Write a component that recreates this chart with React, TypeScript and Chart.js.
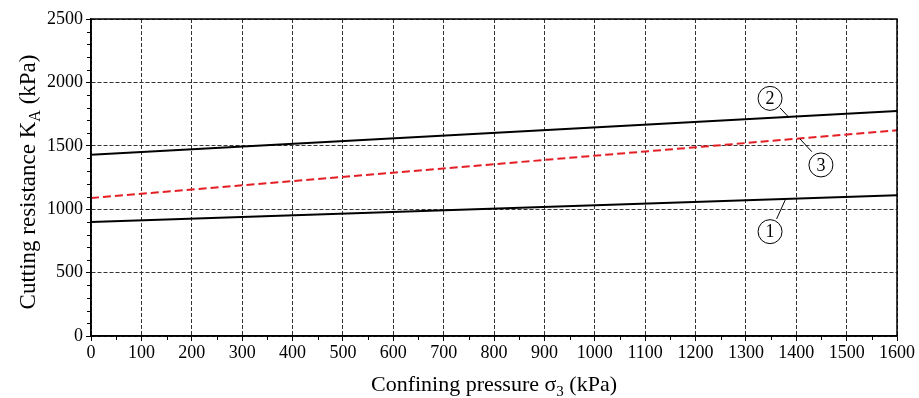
import React, { useEffect, useRef } from "react";
import { Chart, registerables } from "chart.js";

Chart.register(...registerables);

const xValues = [0, 1600];
const curve1 = [900, 1110];
const curve2 = [1430, 1775];
const curve3 = [1088, 1622];

const xTicks = [0, 100, 200, 300, 400, 500, 600, 700, 800, 900, 1000, 1100, 1200, 1300, 1400, 1500, 1600];
const yTicks = [0, 500, 1000, 1500, 2000, 2500];

const labelNames = ["1", "2", "3"];
// circle centre and leader line in data coordinates
const labelCenters = [
  [1348, 823],
  [1348, 1874],
  [1449, 1349],
];
const leaderLines = [
  [1361, 923, 1378, 1072],
  [1368, 1798, 1384, 1730],
  [1431, 1453, 1407, 1556],
];

const SERIF = "'Liberation Serif', 'Times New Roman', serif";

type Seg = { t: string; sub?: boolean };

function drawSegs(ctx: CanvasRenderingContext2D, segs: Seg[], size: number) {
  const subSize = Math.round(size * 0.68);
  let total = 0;
  for (const s of segs) {
    ctx.font = `${s.sub ? subSize : size}px ${SERIF}`;
    total += ctx.measureText(s.t).width;
  }
  let x = -total / 2;
  for (const s of segs) {
    ctx.font = `${s.sub ? subSize : size}px ${SERIF}`;
    ctx.fillText(s.t, x, s.sub ? size * 0.22 : 0);
    x += ctx.measureText(s.t).width;
  }
}

const overlayPlugin = {
  id: "overlay",
  afterDraw(chart: any) {
    const { ctx, chartArea, scales } = chart;
    const xs = scales.x;
    const ys = scales.y;
    ctx.save();
    // frame
    ctx.strokeStyle = "#000";
    ctx.lineWidth = 1.5;
    ctx.setLineDash([]);
    ctx.strokeRect(chartArea.left, chartArea.top, chartArea.right - chartArea.left, chartArea.bottom - chartArea.top);
    // minor ticks
    ctx.lineWidth = 1;
    ctx.beginPath();
    for (let v = 50; v < 1600; v += 100) {
      const px = Math.round(xs.getPixelForValue(v)) + 0.5;
      ctx.moveTo(px, chartArea.bottom);
      ctx.lineTo(px, chartArea.bottom + 4);
    }
    for (let v = 100; v < 2500; v += 100) {
      if (v % 500 === 0) continue;
      const py = Math.round(ys.getPixelForValue(v)) + 0.5;
      ctx.moveTo(chartArea.left, py);
      ctx.lineTo(chartArea.left - 4, py);
    }
    ctx.stroke();

    // circled labels
    ctx.fillStyle = "#000";
    ctx.lineWidth = 1;
    labelNames.forEach((name, i) => {
      const [cx, cy] = labelCenters[i];
      const [a, b, c, d] = leaderLines[i];
      ctx.beginPath();
      ctx.moveTo(xs.getPixelForValue(a), ys.getPixelForValue(b));
      ctx.lineTo(xs.getPixelForValue(c), ys.getPixelForValue(d));
      ctx.stroke();
      const px = xs.getPixelForValue(cx);
      const py = ys.getPixelForValue(cy);
      ctx.beginPath();
      ctx.fillStyle = "#fff";
      ctx.arc(px, py, 12, 0, Math.PI * 2);
      ctx.fill();
      ctx.stroke();
      ctx.fillStyle = "#000";
      ctx.font = `18px ${SERIF}`;
      ctx.textAlign = "center";
      ctx.textBaseline = "middle";
      ctx.fillText(name, px, py + 1);
    });

    // axis titles
    ctx.textAlign = "left";
    ctx.textBaseline = "alphabetic";
    ctx.fillStyle = "#000";
    ctx.save();
    ctx.translate((chartArea.left + chartArea.right) / 2, 391);
    drawSegs(ctx, [{ t: "Confining pressure σ" }, { t: "3", sub: true }, { t: " (kPa)" }], 22);
    ctx.restore();
    ctx.save();
    ctx.translate(35, 182);
    ctx.rotate(-Math.PI / 2);
    drawSegs(ctx, [{ t: "Cutting resistance K" }, { t: "A", sub: true }, { t: " (kPa)" }], 23);
    ctx.restore();
    ctx.restore();
  },
};

export default function App() {
  const ref = useRef<HTMLCanvasElement>(null);
  useEffect(() => {
    if (!ref.current) return;
    const mk = (xv: number[], yv: number[]) => xv.map((x, i) => ({ x, y: yv[i] }));
    const chart = new Chart(ref.current, {
      type: "line",
      data: {
        datasets: [
          { label: "1", data: mk(xValues, curve1), borderColor: "#000", borderWidth: 2, pointRadius: 0, fill: false },
          { label: "2", data: mk(xValues, curve2), borderColor: "#000", borderWidth: 2, pointRadius: 0, fill: false },
          { label: "3", data: mk(xValues, curve3), borderColor: "#e31e24", borderWidth: 2, borderDash: [8, 4], pointRadius: 0, fill: false },
        ],
      },
      options: {
        animation: false,
        responsive: false,
        maintainAspectRatio: false,
        layout: { padding: { top: 19, right: 22, left: 0, bottom: 0 } },
        plugins: { legend: { display: false }, tooltip: { enabled: false } },
        scales: {
          x: {
            type: "linear",
            min: 0,
            max: 1600,
            afterFit: (s: any) => { s.height = 62; },
            afterBuildTicks: (s: any) => { s.ticks = xTicks.map((v) => ({ value: v })); },
            ticks: { color: "#000", font: { family: SERIF, size: 18 }, padding: 1, maxRotation: 0, autoSkip: false, callback: (v: any) => String(v) },
            grid: { color: "#333", lineWidth: 1, tickColor: "#000", tickLength: 5, tickWidth: 1 },
            border: { color: "#000", width: 1.5, dash: [4, 2] },
          },
          y: {
            type: "linear",
            min: 0,
            max: 2500,
            afterFit: (s: any) => { s.width = 91; },
            afterBuildTicks: (s: any) => { s.ticks = yTicks.map((v) => ({ value: v })); },
            ticks: { color: "#000", font: { family: SERIF, size: 18 }, padding: 3, autoSkip: false, callback: (v: any) => String(v) },
            grid: { color: "#333", lineWidth: 1, tickColor: "#000", tickLength: 5, tickWidth: 1 },
            border: { color: "#000", width: 1.5, dash: [4, 2] },
          },
        },
      },
      plugins: [overlayPlugin],
    });
    return () => chart.destroy();
  }, []);
  return (
    <div style={{ position: "fixed", left: 0, top: 0, width: 919, height: 398, background: "#fff" }}>
      <canvas ref={ref} width={919} height={398} style={{ width: 919, height: 398 }} />
    </div>
  );
}
